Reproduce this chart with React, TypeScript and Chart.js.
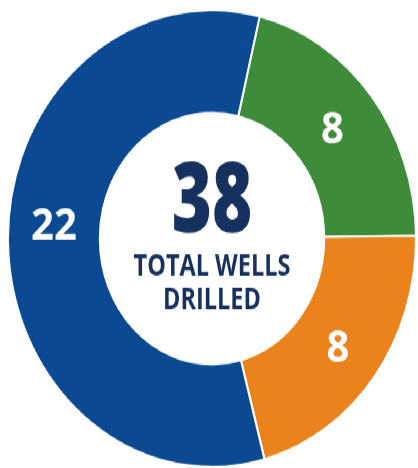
import React, { useEffect, useRef } from "react";
import { Chart, registerables } from "chart.js";

Chart.register(...registerables);

const categories = ["Green", "Orange", "Blue"];
const wellCounts = [8, 8, 22];
const segmentColors = ["#3E8C3A", "#EB831D", "#0B4A93"];
const centerValue = "38";
const centerLines = ["TOTAL WELLS", "DRILLED"];

const FONT = "'Open Sans', 'Noto Sans', sans-serif";
const labelNudge = [[-3, 2], [0, 3], [0, -12]];

const labelPlugin = {
  id: "wellLabels",
  afterDatasetsDraw(chart: any) {
    const ctx = chart.ctx;
    const meta = chart.getDatasetMeta(0);
    ctx.save();
    ctx.fillStyle = "#ffffff";
    ctx.font = `700 40px ${FONT}`;
    ctx.textAlign = "center";
    ctx.textBaseline = "middle";
    meta.data.forEach((arc: any, i: number) => {
      const p = arc.tooltipPosition();
      ctx.fillText(String(wellCounts[i]), p.x + labelNudge[i][0], p.y + labelNudge[i][1]);
    });
    ctx.restore();

    const arc0 = meta.data[0];
    const cx = arc0.x;
    const cy = arc0.y;
    ctx.save();
    ctx.fillStyle = "#17315F";
    ctx.textAlign = "center";
    ctx.textBaseline = "middle";
    ctx.translate(cx, cy);
    ctx.scale(0.8, 1);
    ctx.font = `800 86px ${FONT}`;
    ctx.fillText(centerValue, 0, -31);
    ctx.restore();
    ctx.save();
    ctx.fillStyle = "#17315F";
    ctx.textAlign = "center";
    ctx.textBaseline = "middle";
    ctx.translate(cx, cy);
    ctx.scale(0.87, 1);
    ctx.font = `700 27px ${FONT}`;
    ctx.fillText(centerLines[0], 0, 25);
    ctx.fillText(centerLines[1], 0, 55);
    ctx.restore();
  },
};

export default function App() {
  const ref = useRef<HTMLCanvasElement | null>(null);
  useEffect(() => {
    if (!ref.current) return;
    const chart = new Chart(ref.current, {
      type: "doughnut",
      data: {
        labels: categories,
        datasets: [
          {
            data: wellCounts,
            backgroundColor: segmentColors,
            borderColor: "#ffffff",
            borderWidth: 2,
          },
        ],
      },
      options: {
        responsive: false,
        animation: false,
        rotation: 13.5,
        cutout: "55%",
        layout: { padding: { left: 7, right: 1, top: 8, bottom: 0 } },
        plugins: {
          legend: { display: false },
          tooltip: { enabled: false },
        },
      },
      plugins: [labelPlugin],
    });
    return () => chart.destroy();
  }, []);

  return (
    <div
      style={{
        position: "absolute",
        left: 0,
        top: 0,
        width: 418,
        height: 418,
        transform: "scaleY(1.12)",
        transformOrigin: "0 0",
        background: "#ffffff",
      }}
    >
      <canvas ref={ref} width={418} height={418} style={{ display: "block" }} />
    </div>
  );
}
